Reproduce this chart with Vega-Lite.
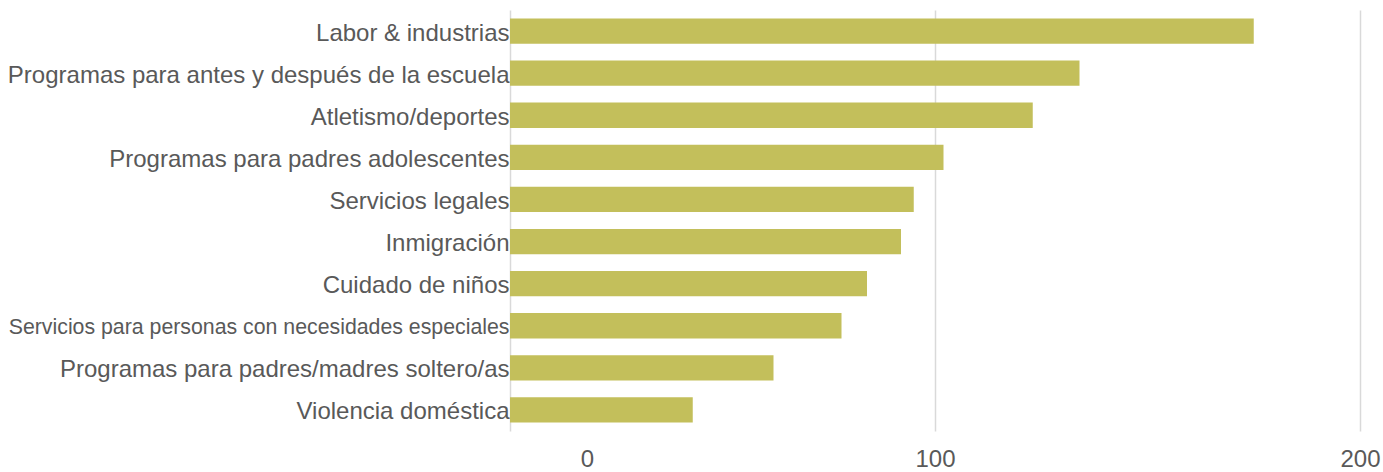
{
  "$schema": "https://vega.github.io/schema/vega-lite/v6.json",
  "autosize": {"type": "none"},
  "width": 850,
  "height": 421,
  "padding": {"left": 510, "top": 10, "right": 23, "bottom": 41},
  "background": "white",
  "config": {"view": {"stroke": null}, "font": "Liberation Sans"},
  "data": {
    "values": [
      {"category": "Labor & industrias", "value": 175},
      {"category": "Programas para antes y después de la escuela", "value": 134},
      {"category": "Atletismo/deportes", "value": 123},
      {"category": "Programas para padres adolescentes", "value": 102},
      {"category": "Servicios legales", "value": 95},
      {"category": "Inmigración", "value": 92},
      {"category": "Cuidado de niños", "value": 84},
      {"category": "Servicios para personas con necesidades especiales", "value": 78},
      {"category": "Programas para padres/madres soltero/as", "value": 62},
      {"category": "Violencia doméstica", "value": 43}
    ]
  },
  "mark": {"type": "bar", "color": "#c3bf5b"},
  "encoding": {
    "y": {
      "field": "category",
      "type": "nominal",
      "sort": null,
      "title": null,
      "scale": {"paddingInner": 0.4, "paddingOuter": 0.2},
      "axis": {
        "domain": false,
        "ticks": false,
        "labelPadding": 1,
        "labelOffset": 2.5,
        "labelColor": "#595959",
        "labelFontSize": {"condition": {"test": "datum.value === 'Servicios para personas con necesidades especiales'", "value": 21.3}, "value": 24},
        "labelLimit": 600
      }
    },
    "x": {
      "field": "value",
      "type": "quantitative",
      "title": null,
      "scale": {"domain": [0, 200], "nice": false},
      "axis": {
        "values": [0, 100, 200],
        "domain": false,
        "ticks": false,
        "grid": true,
        "gridColor": "#d9d9d9",
        "gridWidth": 1.5,
        "labelFlush": false,
        "labelPadding": 16,
        "labelColor": "#595959",
        "labelFontSize": 24,
        "labelOffset": {"condition": {"test": "datum.value === 0", "value": 77}, "value": 0}
      }
    }
  }
}
